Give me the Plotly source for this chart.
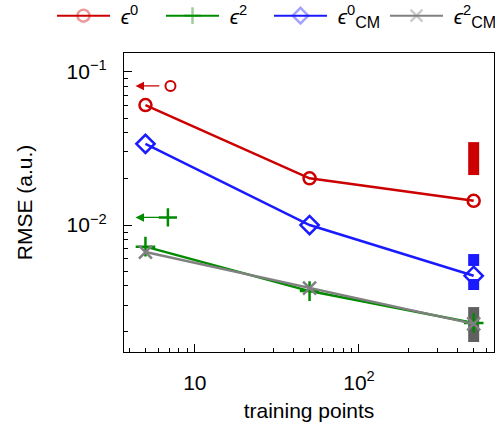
import numpy as np
import plotly.graph_objects as go

# ---- data ----
train_pts = [5, 50, 500]
eps0 = [0.0608, 0.0202, 0.0144]
eps2 = [0.00722, 0.00370, 0.00229]
eps0_cm = [0.0339, 0.0100, 0.00466]
eps2_cm = [0.00666, 0.00387, 0.00226]

# spread of errors at largest training set (vertical bars)
spread_x = 500
red_spread = [0.0212, 0.0348]
blue_spread_lo = [0.00376, 0.00444]
blue_spread_hi = [0.00540, 0.00646]
gray_spread = [0.00172, 0.00291]

# reference levels (arrows)
ref_eps0 = 0.081
ref_eps2 = 0.0112

RED = "#cc0000"
GREEN = "#008a00"
BLUE = "#1a1aff"
GRAY = "#808080"

fig = go.Figure()

# spread bars
for ys, col in [(red_spread, RED), (blue_spread_lo, BLUE), (blue_spread_hi, BLUE), (gray_spread, "#606060")]:
    fig.add_trace(go.Scatter(x=[spread_x, spread_x], y=ys, mode="lines",
                             line=dict(color=col, width=11), showlegend=False, hoverinfo="skip"))

NB = "\u00a0"
CM = "<sub><span style='font-size:16px'>CM</span></sub>"
series = [
    ("<i>ϵ</i><sup>0</sup>", eps0, RED, "circle-open", 12, 2.5),
    ("<i>ϵ</i><sup>2</sup>", eps2, GREEN, "cross-thin-open", 14, 2.5),
    ("<i>ϵ</i><sup>0</sup>" + CM, eps0_cm, BLUE, "diamond-open", 14, 2.5),
    ("<i>ϵ</i><sup>2</sup>" + CM, eps2_cm, GRAY, "x-thin-open", 13, 2.5),
]
for name, ys, col, sym, sz, lw in series:
    fig.add_trace(go.Scatter(x=train_pts, y=ys, mode="lines+markers",
                             line=dict(color=col, width=lw),
                             marker=dict(symbol=sym, size=sz, color=col,
                                         line=dict(color=col, width=2.5)),
                             showlegend=False))

FONT = "Liberation Sans"
legend_names = ["legend", "legend2", "legend3", "legend4"]
legend_left_px = [52, 161, 269, 385]

# legend proxies (faded markers), one legend each for exact placement
for (name, ys, col, sym, sz, lw), lg in zip(series, legend_names):
    fig.add_trace(go.Scatter(x=[None], y=[None], mode="lines+markers",
                             name=NB + name, legend=lg,
                             line=dict(color=col, width=2),
                             marker=dict(symbol=sym, size=12, color=col, opacity=0.4,
                                         line=dict(color=col, width=2.5))))

# reference markers beside arrows
fig.add_trace(go.Scatter(x=[7.1], y=[ref_eps0], mode="markers", showlegend=False,
                         marker=dict(symbol="circle-open", size=10, color=RED, line=dict(width=2, color=RED))))
fig.add_trace(go.Scatter(x=[6.85], y=[ref_eps2], mode="markers", showlegend=False,
                         marker=dict(symbol="cross-thin-open", size=13, color=GREEN, line=dict(width=2.5, color=GREEN))))

for yv, col in [(ref_eps0, RED), (ref_eps2, GREEN)]:
    fig.add_annotation(x=np.log10(4.35), y=np.log10(yv), ax=np.log10(6.2), ay=np.log10(yv),
                       xref="x", yref="y", axref="x", ayref="y", text="",
                       showarrow=True, arrowhead=2, arrowsize=1.3, arrowwidth=1.3, arrowcolor=col)

y_minor = [v * 10.0**e for e in (-3, -2, -1) for v in range(2, 10)]
x_minor = [v * 10.0**e for e in (0, 1, 2) for v in range(2, 10)]

legends = {}
for lg, px in zip(legend_names, legend_left_px):
    legends[lg] = dict(orientation="h", xref="container", yref="container",
                       x=px / 495, xanchor="left", y=1 - 16 / 430, yanchor="middle",
                       font=dict(family=FONT, size=21), itemwidth=53,
                       bgcolor="rgba(0,0,0,0)")

fig.update_layout(
    width=495, height=430,
    margin=dict(l=124, r=1, t=53, b=78, autoexpand=False),
    paper_bgcolor="white", plot_bgcolor="white",
    font=dict(family=FONT, size=21, color="black"),
    showlegend=True,
    **legends,
    xaxis=dict(type="log", range=[np.log10(3.7), np.log10(665)], automargin=False,
               showline=True, linecolor="black", linewidth=1.2, mirror=True,
               ticks="inside", ticklen=8, tickwidth=1, tickcolor="black",
               tickvals=[10, 100], ticktext=["10", "10<sup>2</sup>"],
               ticklabelstandoff=12,
               minor=dict(tickvals=x_minor, ticks="inside", ticklen=4, tickcolor="black"),
               showgrid=False, zeroline=False,
               title=dict(text="training points", font=dict(size=21), standoff=10),
               tickfont=dict(size=21)),
    yaxis=dict(type="log", range=[np.log10(0.00148), np.log10(0.133)], automargin=False,
               showline=True, linecolor="black", linewidth=1.2, mirror=True,
               ticks="inside", ticklen=8, tickwidth=1, tickcolor="black",
               tickvals=[0.01, 0.1], ticktext=["10<sup>−2</sup>", "10<sup>−1</sup>"],
               ticklabelstandoff=12,
               minor=dict(tickvals=y_minor, ticks="inside", ticklen=4, tickcolor="black"),
               showgrid=False, zeroline=False,
               title=dict(text="RMSE (a.u.)", font=dict(size=21), standoff=28),
               tickfont=dict(size=21)),
)

fig.write_html("out.html", config={"displayModeBar": False},
               post_script="document.body.style.margin='0px';")
